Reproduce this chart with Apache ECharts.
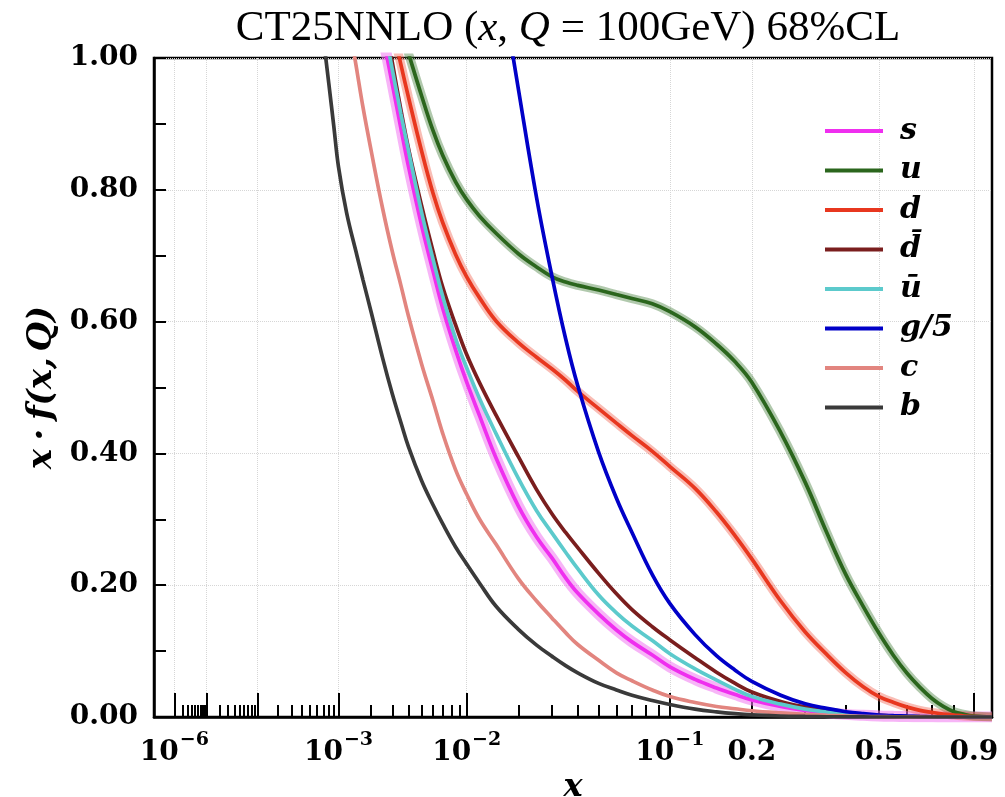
<!DOCTYPE html>
<html><head><meta charset="utf-8">
<script src="https://cdn.jsdelivr.net/npm/echarts@6/dist/echarts.min.js"></script>
<style>html,body{margin:0;padding:0;background:#fff;overflow:hidden}#c{width:1005px;height:797px}</style>
</head><body><div id="c"></div>
<script>
// x grid (momentum fraction)
const xs = [6e-4, 7e-4, 8e-4, 9e-4, 1e-3, 1.2e-3, 1.5e-3, 1.7e-3, 2e-3, 2.5e-3,
            3e-3, 3.5e-3, 4e-3, 5e-3, 6e-3, 7e-3, 8.5e-3, 0.01, 0.012, 0.015,
            0.02, 0.025, 0.03, 0.035, 0.04, 0.05, 0.06, 0.07, 0.085, 0.1,
            0.125, 0.15, 0.175, 0.2, 0.25, 0.3, 0.35, 0.4, 0.45, 0.5,
            0.55, 0.6, 0.65, 0.7, 0.75, 0.8, 0.85, 0.9, 1.0];
// x*f(x,Q) values (null = above the frame)
const sVals = [null, null, null, null, null, null, null, null, 1.12, 1.035,
               0.96, 0.893, 0.835, 0.745, 0.677, 0.62, 0.557, 0.508, 0.457, 0.393,
               0.32, 0.273, 0.241, 0.211, 0.188, 0.156, 0.132, 0.114, 0.094, 0.076,
               0.057, 0.044, 0.034, 0.026, 0.016, 0.010, 0.0065, 0.004, 0.0025, 0.0015,
               0.001, 0.0006, 0.0003, 0.0002, 0.0001, 0, 0, 0, 0];
const uVals = [null, null, null, null, null, null, null, null, null, null,
               null, 1.045, 1.007, 0.942, 0.89, 0.852, 0.812, 0.785, 0.76, 0.734,
               0.703, 0.683, 0.668, 0.66, 0.655, 0.648, 0.641, 0.635, 0.627, 0.615,
               0.592, 0.566, 0.539, 0.508, 0.432, 0.356, 0.28, 0.216, 0.168, 0.127,
               0.093, 0.066, 0.045, 0.028, 0.016, 0.008, 0.004, 0.0015, 0];
const dVals = [null, null, null, null, null, null, null, null, null, null,
               1.047, 0.99, 0.94, 0.858, 0.795, 0.75, 0.702, 0.668, 0.636, 0.601,
               0.568, 0.546, 0.528, 0.511, 0.494, 0.468, 0.446, 0.427, 0.403, 0.38,
               0.347, 0.311, 0.275, 0.24, 0.176, 0.129, 0.095, 0.067, 0.046, 0.031,
               0.022, 0.015, 0.01, 0.007, 0.0045, 0.003, 0.0015, 0.0007, 0];
const dbarVals = [null, null, null, null, null, null, null, null, 1.2, 1.083,
                  0.993, 0.921, 0.862, 0.775, 0.707, 0.652, 0.595, 0.55, 0.507, 0.458,
                  0.395, 0.345, 0.308, 0.28, 0.257, 0.218, 0.187, 0.163, 0.137, 0.117,
                  0.09, 0.068, 0.051, 0.038, 0.0235, 0.015, 0.0095, 0.006, 0.0038, 0.0024,
                  0.0015, 0.0009, 0.0005, 0.0003, 0.0002, 0.0001, 0, 0, 0];
const ubarVals = [null, null, null, null, null, null, null, null, 1.15, 1.06,
                  0.982, 0.915, 0.859, 0.765, 0.695, 0.638, 0.574, 0.53, 0.483, 0.43,
                  0.362, 0.313, 0.279, 0.25, 0.225, 0.185, 0.158, 0.138, 0.116, 0.096,
                  0.073, 0.056, 0.042, 0.031, 0.0195, 0.012, 0.0076, 0.0048, 0.003, 0.0019,
                  0.0012, 0.0007, 0.0004, 0.0002, 0.0001, 0, 0, 0, 0];
const gVals = [null, null, null, null, null, null, null, null, null, null,
               null, null, null, null, null, null, null, null, null, 1.16,
               0.953, 0.788, 0.668, 0.574, 0.503, 0.402, 0.332, 0.28, 0.216, 0.172,
               0.125, 0.093, 0.071, 0.054, 0.033, 0.020, 0.013, 0.008, 0.005, 0.003,
               0.002, 0.0012, 0.0007, 0.0004, 0.0002, 0.0001, 0, 0, 0];
const cVals = [null, null, null, null, 1.155, 1.075, 0.98, 0.925, 0.86, 0.772,
               0.706, 0.655, 0.608, 0.535, 0.48, 0.43, 0.375, 0.338, 0.30, 0.262,
               0.21, 0.176, 0.15, 0.128, 0.11, 0.086, 0.067, 0.055, 0.041, 0.031,
               0.022, 0.016, 0.0125, 0.0095, 0.0062, 0.004, 0.0026, 0.0016, 0.001, 0.0006,
               0.0004, 0.0002, 0.0001, 0, 0, 0, 0, 0, 0];
const bVals = [1.11, 1.03, 0.96, 0.895, 0.835, 0.765, 0.70, 0.663, 0.615, 0.545,
               0.49, 0.447, 0.41, 0.358, 0.322, 0.293, 0.258, 0.232, 0.203, 0.168,
               0.133, 0.109, 0.092, 0.078, 0.067, 0.051, 0.041, 0.033, 0.025, 0.019,
               0.012, 0.0078, 0.005, 0.0032, 0.0015, 0.0008, 0.0004, 0.0002, 0.0001, 0,
               0, 0, 0, 0, 0, 0, 0, 0, 0];

// axis ticks
const xMajorTicks = [1e-6, 1e-5, 1e-4, 1e-3, 1e-2, 0.1, 0.2, 0.5, 0.9];
const xMinorTicks = [2e-6,3e-6,4e-6,5e-6,6e-6,7e-6,8e-6,9e-6, 2e-5,3e-5,4e-5,5e-5,6e-5,7e-5,8e-5,9e-5, 2e-4,3e-4,4e-4,5e-4,6e-4,7e-4,8e-4,9e-4, 2e-3,3e-3,4e-3,5e-3,6e-3,7e-3,8e-3,9e-3, 0.02,0.03,0.04,0.05,0.06,0.07,0.08,0.09, 0.3,0.4,0.6,0.7,0.8];
const xLabelTicks = [1e-6, 1e-3, 1e-2, 0.1, 0.2, 0.5, 0.9];
const xLabelTexts = ['{b|10}{s|−6}', '{b|10}{s|−3}', '{b|10}{s|−2}', '{b|10}{s|−1}', '{b|0.2}', '{b|0.5}', '{b|0.9}'];
const xMin = 1e-7, xMax = 1.0;

// axis scale: x^(1/5)
const U = x => Math.pow(x, 0.2);
const pts = vals => xs.map((x, i) => vals[i] == null ? null : [U(x), vals[i]]).filter(p => p);

const chart = echarts.init(document.getElementById('c'), null, {renderer: 'canvas', width: 1005, height: 797});
const serifB = 'DejaVu Serif';
const common = {type: 'line', showSymbol: false, smooth: 0.4, clip: true, silent: true, animation: false};
const lineS = (name, vals, color) => Object.assign({}, common, {
  name, data: pts(vals), lineStyle: {color, width: 3.7}, itemStyle: {color}, z: 2
});
const band = (vals, color, w) => Object.assign({}, common, {
  data: pts(vals), lineStyle: {color, width: w}, z: 1
});

const option = {
  animation: false,
  backgroundColor: '#fff',
  grid: {left: 154, right: 13, top: 58, bottom: 80, show: true, borderColor: '#000', borderWidth: 2.5,
         containLabel: false, outerBoundsMode: 'none'},
  graphic: [{
    type: 'text', x: 568, y: 29,
    style: {
      text: '{r|CT25NNLO (}{i|x}{r|, }{i|Q}{r| = 100GeV) 68%CL}',
      align: 'center', verticalAlign: 'middle', textAlign: 'center', textVerticalAlign: 'middle',
      rich: {
        r: {fontFamily: 'Liberation Serif', fontSize: 43, fill: '#000', color: '#000'},
        i: {fontFamily: 'Liberation Serif', fontStyle: 'italic', fontSize: 43, fill: '#000', color: '#000'}
      }
    }
  }],
  legend: {
    orient: 'vertical', left: 820, top: 111, itemWidth: 58, itemHeight: 4, itemGap: 9.5,
    icon: 'rect', selectedMode: false,
    data: ['s', 'u', 'd', 'd\u0304', '\u016B', 'g/5', 'c', 'b'],
    textStyle: {fontFamily: serifB, fontStyle: 'italic', fontWeight: 'bold', fontSize: 30, color: '#000', lineHeight: 30, padding: [0, 0, 0, 12]}
  },
  xAxis: [{
    type: 'value', min: U(xMin), max: U(xMax), position: 'bottom',
    name: 'x', nameLocation: 'middle', nameGap: 42,
    nameTextStyle: {fontFamily: serifB, fontStyle: 'italic', fontWeight: 'bold', fontSize: 32, color: '#000'},
    axisLine: {show: true, onZero: false, lineStyle: {color: '#000', width: 2.5}},
    axisTick: {show: true, inside: true, length: 24, customValues: xMajorTicks.map(U), lineStyle: {color: '#000', width: 2}},
    axisLabel: {
      customValues: xLabelTicks.map(U), margin: 14, color: '#000',
      formatter: v => {
        let best = 0;
        xLabelTicks.forEach((t, i) => { if (Math.abs(U(t) - v) < Math.abs(U(xLabelTicks[best]) - v)) best = i; });
        return xLabelTexts[best];
      },
      rich: {
        b: {fontFamily: serifB, fontWeight: 'bold', fontSize: 28, color: '#000', lineHeight: 36, verticalAlign: 'bottom'},
        s: {fontFamily: serifB, fontWeight: 'bold', fontSize: 19, color: '#000', lineHeight: 36, verticalAlign: 'top', padding: [0, 0, 0, 1]}
      }
    },
    splitLine: {show: true, lineStyle: {type: 'dotted', color: '#d6d6d6', width: 1}}
  }, {
    type: 'value', min: U(xMin), max: U(xMax), position: 'bottom', gridIndex: 0,
    axisLine: {show: false},
    axisTick: {show: true, inside: true, length: 12, customValues: xMinorTicks.map(U), lineStyle: {color: '#000', width: 2}},
    axisLabel: {show: false},
    splitLine: {show: false}
  }],
  yAxis: {
    type: 'value', min: 0, max: 1, interval: 0.2,
    name: 'x\u2005·\u2005f(x,\u2006Q)', nameLocation: 'middle', nameGap: 92,
    nameTextStyle: {fontFamily: serifB, fontStyle: 'italic', fontWeight: 'bold', fontSize: 34, color: '#000'},
    axisLine: {show: true, lineStyle: {color: '#000', width: 2.5}},
    axisTick: {show: true, inside: true, length: 12, lineStyle: {color: '#000', width: 2}},
    minorTick: {show: true, splitNumber: 2, length: 12, lineStyle: {color: '#000', width: 2}},
    axisLabel: {margin: 16, color: '#000', fontFamily: serifB, fontWeight: 'bold', fontSize: 28, formatter: v => v.toFixed(2)},
    splitLine: {show: true, lineStyle: {type: 'dotted', color: '#d6d6d6', width: 1}}
  },
  series: [
    band(sVals, 'rgba(240,120,240,0.55)', 11),
    lineS('s', sVals, '#ef2fef'),
    band(uVals, 'rgba(60,120,50,0.40)', 9),
    lineS('u', uVals, '#2b661d'),
    band(dVals, 'rgba(240,90,70,0.40)', 9),
    lineS('d', dVals, '#e8371f'),
    lineS('d\u0304', dbarVals, '#7a1e1e'),
    lineS('\u016B', ubarVals, '#5ccacc'),
    lineS('g/5', gVals, '#0000c8'),
    lineS('c', cVals, '#e2857f'),
    lineS('b', bVals, '#3a3a3a')
  ]
};
chart.setOption(option);
</script>
</body></html>
